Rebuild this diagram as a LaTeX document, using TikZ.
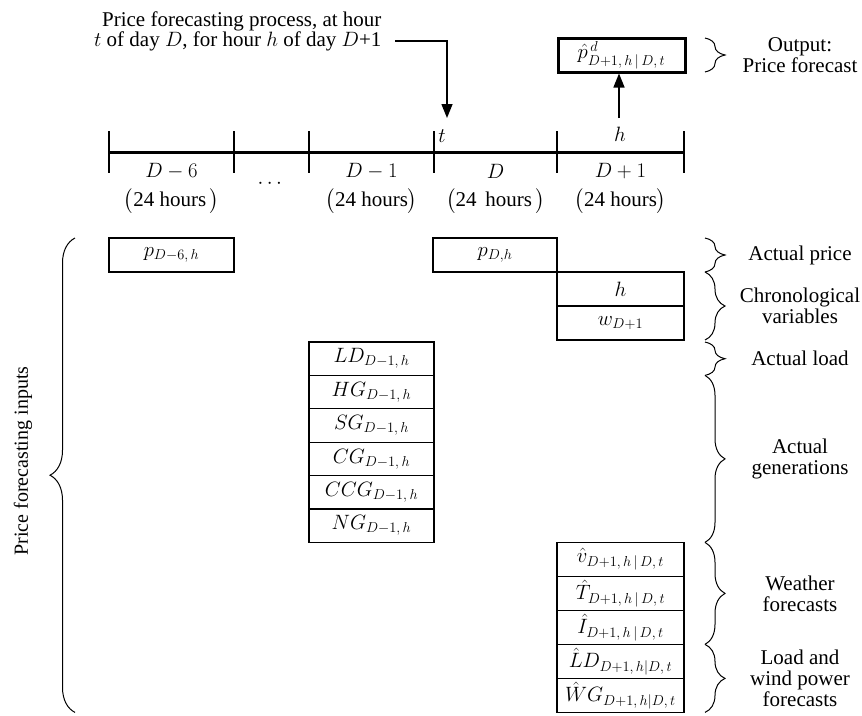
\documentclass[tikz,border=0pt]{standalone}
\usepackage{amsmath}
\usepackage{fontspec}
\setmainfont{Liberation Serif}
\usepackage{tikz}
\usetikzlibrary{arrows.meta,positioning,calc,decorations.pathreplacing}

\begin{document}
\begin{tikzpicture}[
    x=1pt, y=-1pt,
    font=\fontsize{21}{20}\selectfont,
    inbox/.style={draw, rectangle, minimum width=125pt, minimum height=34pt, inner sep=0pt, outer sep=0pt, line width=1.2pt, font=\fontsize{20}{20}\selectfont},
    genbox/.style={inbox, minimum height=33.4pt},
    fcbox/.style={inbox, minimum width=127pt},
    outbox/.style={fcbox, line width=3pt},
    note/.style={align=center, font=\fontsize{21}{21}\selectfont},
    rbrace/.style={decorate, decoration={brace, amplitude=20pt}, line width=1pt},
    marker/.style={-{Triangle[width=11pt,length=14pt]}, line width=1.5pt}
]
    \useasboundingbox (0,0) rectangle (862,715);

    \node[align=right, anchor=east] (proc) at (385,31) {Price forecasting process, at hour\\$t$ of day $D$, for hour $h$ of day $D$+1};
    \coordinate (pstart) at (395,41);
    \coordinate (tmark) at (447,118);
    \draw[marker] (pstart) -| (tmark);

    \node[outbox] (out) at (621.5,55) {$\hat{p}^{\,d}_{D+1,\,h\,|\,D,\,t}$};
    \coordinate (hmark) at (619,118);
    \draw[marker, shorten >=1.5pt] (hmark) -- (hmark |- out.south);

    \draw[line width=3pt] (109,152) -- (684,152);
    \foreach \x in {109,234,309,434,557,684}
        \draw[line width=1.3pt] (\x,131) -- (\x,173);
    \node (tlab) at (442,136) {$t$};
    \node (hlab) at (620,134) {$h$};

    \node (dm6) at (171.5,171) {$D-6$};
    \node (hm6) at (171.5,201) {$\bigl($24 hours\,$\bigr)$};
    \node (dots) at (271.5,184) {$\cdots$};
    \node (dm1) at (371.5,171) {$D-1$};
    \node (hm1) at (371.5,201) {$\bigl($24 hours$\bigr)$};
    \node (d0) at (495.5,171) {$D$};
    \node (h0) at (495.5,201) {$\bigl($24\, hours\,$\bigr)$};
    \node (dp1) at (620.5,171) {$D+1$};
    \node (hp1) at (620.5,201) {$\bigl($24 hours$\bigr)$};

    \node[inbox] (pd6) at (171.5,255) {$p_{D-6,\,h}$};
    \node[inbox, minimum width=124pt] (pd) at (495,255) {$p_{D,h}$};
    \node[fcbox, anchor=north west] (hr) at (pd.south east) {$h$};
    \node[fcbox, below=0pt of hr] (wk) {$w_{D+1}$};

    \node[genbox] (ld) at (371.5,358.7) {$LD_{D-1,\,h}$};
    \node[genbox, below=0pt of ld] (hg) {$HG_{D-1,\,h}$};
    \node[genbox, below=0pt of hg] (sg) {$SG_{D-1,\,h}$};
    \node[genbox, below=0pt of sg] (cg) {$CG_{D-1,\,h}$};
    \node[genbox, below=0pt of cg] (ccg) {$CCG_{D-1,\,h}$};
    \node[genbox, below=0pt of ccg] (ng) {$NG_{D-1,\,h}$};

    \node[fcbox, anchor=north] (vw) at (ng.south -| hr.south) {$\hat{v}_{D+1,\,h\,|\,D,\,t}$};
    \node[fcbox, below=0pt of vw] (tt) {$\hat{T}_{D+1,\,h\,|\,D,\,t}$};
    \node[fcbox, below=0pt of tt] (ii) {$\hat{I}_{D+1,\,h\,|\,D,\,t}$};
    \node[fcbox, below=0pt of ii] (lf) {$\hat{L}D_{D+1,\,h|D,\,t}$};
    \node[fcbox, below=0pt of lf] (wg) {$\hat{W}G_{D+1,\,h|D,\,t}$};

    \coordinate (bx) at (705,0);
    \coordinate (nx) at (800,0);
    \draw[rbrace] (out.north -| bx) -- (out.south -| bx);
    \draw[rbrace] (pd.north -| bx) -- (pd.south -| bx);
    \draw[rbrace] (hr.north -| bx) -- (wk.south -| bx);
    \draw[rbrace] (ld.north -| bx) -- (ld.south -| bx);
    \draw[rbrace] (hg.north -| bx) -- (ng.south -| bx);
    \draw[rbrace] (vw.north -| bx) -- (ii.south -| bx);
    \draw[rbrace] (lf.north -| bx) -- (wg.south -| bx);

    \node[note] (nout) at (out -| nx) {Output:\\Price forecast};
    \node[note] (nprice) at (pd -| nx) {Actual price};
    \node[note] (nchron) at ($(hr.north -| nx)!0.5!(wk.south -| nx)$) {Chronological\\variables};
    \node[note] (nload) at (ld -| nx) {Actual load};
    \node[note] (ngen) at ($(hg.north -| nx)!0.5!(ng.south -| nx)$) {Actual\\generations};
    \node[note] (nweather) at ($(vw.north -| nx)!0.5!(ii.south -| nx)$) {Weather\\forecasts};
    \node[note] (nfc) at ($(lf.north -| nx)!0.5!(wg.south -| nx)$) {Load and\\wind power\\forecasts};

    \coordinate (lx) at (75,0);
    \draw[rbrace, decoration={amplitude=25pt}] (wg.south -| lx) -- (pd6.north -| lx);
    \node[rotate=90, font=\fontsize{20}{20}\selectfont] (inputs) at (23,461) {Price forecasting inputs};
\end{tikzpicture}
\end{document}
